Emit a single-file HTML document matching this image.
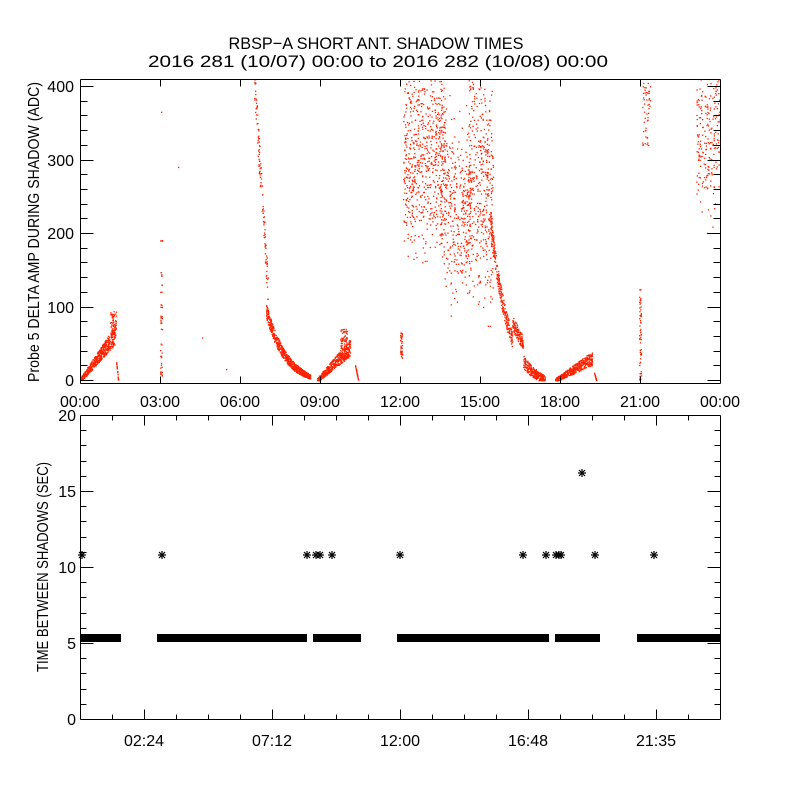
<!DOCTYPE html>
<html><head><meta charset="utf-8"><style>
html,body{margin:0;padding:0;background:#fff;}
svg{display:block;font-family:"Liberation Sans",sans-serif;}
</style></head><body>
<svg id="s" width="800" height="800" viewBox="0 0 800 800" xmlns="http://www.w3.org/2000/svg">
<rect width="800" height="800" fill="#fff"/>
<text x="376" y="49" font-size="17" text-anchor="middle" textLength="295" lengthAdjust="spacingAndGlyphs">RBSP−A SHORT ANT. SHADOW TIMES</text>
<text x="378" y="67" font-size="17" text-anchor="middle" textLength="460" lengthAdjust="spacingAndGlyphs">2016 281 (10/07) 00:00 to 2016 282 (10/08) 00:00</text>
<g id="pts"></g>
<g id="ax" stroke="#000" stroke-width="1" fill="none"></g>
<g id="lab" font-size="16" fill="#000"></g>
<text transform="translate(39,232) rotate(-90)" font-size="16" text-anchor="middle" textLength="300" lengthAdjust="spacingAndGlyphs">Probe 5 DELTA AMP DURING SHADOW (ADC)</text>
<text transform="translate(48,567) rotate(-90)" font-size="16" text-anchor="middle" textLength="210" lengthAdjust="spacingAndGlyphs">TIME BETWEEN SHADOWS (SEC)</text>
</svg>
<script>
var NS="http://www.w3.org/2000/svg";
function el(p,t,a,txt){var e=document.createElementNS(NS,t);for(var k in a)e.setAttribute(k,a[k]);if(txt!==undefined)e.textContent=txt;p.appendChild(e);return e;}
var ax=document.getElementById('ax'),lab=document.getElementById('lab'),pts=document.getElementById('pts');
function L(x1,y1,x2,y2){el(ax,'line',{x1:x1+.5,y1:y1+.5,x2:x2+.5,y2:y2+.5});}
L(80,79,720,79);L(80,383,720,383);L(80,79,80,383);L(720,79,720,383);
function yT(v){return 380-v*0.735;}
for(var v=0;v<=400;v+=20){var y=Math.round(yT(v));var len=(v%100==0)?13:7;L(80,y,80+len,y);L(720-len,y,720,y);
 if(v%100==0)el(lab,'text',{x:74,y:y+6,'text-anchor':'end'},String(v));}
var tl=["00:00","03:00","06:00","09:00","12:00","15:00","18:00","21:00","00:00"];
for(var i=0;i<=8;i++){var x=80+i*80;L(x,383,x,376);L(x,79,x,86);el(lab,'text',{x:x,y:407,'text-anchor':'middle'},tl[i]);}
L(80,415,720,415);L(80,719,720,719);L(80,415,80,719);L(720,415,720,719);
for(var v=0;v<=20;v++){var y=Math.round(719-v*15.2);var len=(v%5==0)?13:6;L(80,y,80+len,y);L(720-len,y,720,y);
 if(v%5==0)el(lab,'text',{x:76,y:y+6,'text-anchor':'end'},String(v));}
for(var x=80;x<=720;x+=32){var mj=((x-144)%128==0);var len=mj?10:5;L(x,719,x,719-len);L(x,415,x,415+len);}
var bl=["02:24","07:12","12:00","16:48","21:35"];
for(var i=0;i<5;i++)el(lab,'text',{x:144+i*128,y:746,'text-anchor':'middle'},bl[i]);
[[80,121],[157,307],[313,361],[397,549],[555,600],[637,720]].forEach(function(s){el(pts,'rect',{x:s[0],y:634,width:s[1]-s[0],height:8,fill:'#000'});});
function star(x,y){var g=el(pts,'g',{stroke:'#000','stroke-width':'1.2'});
 el(g,'line',{x1:x-4,y1:y,x2:x+4,y2:y});el(g,'line',{x1:x,y1:y-4,x2:x,y2:y+4});
 el(g,'line',{x1:x-3,y1:y-3,x2:x+3,y2:y+3});el(g,'line',{x1:x-3,y1:y+3,x2:x+3,y2:y-3});}
[82,162,307,316,320,332,400,523,546,556,559,561,595,654].forEach(function(x){star(x,555);});
star(582,473);
var seed=12345;function r(){seed=(seed*1103515245+12345)%2147483648;return seed/2147483648;}
function P(x,v,c){if(v<0||v>410)return;el(pts,'rect',{x:x.toFixed(1),y:yT(v).toFixed(1),width:1.3,height:1.3,fill:c||'#ff2200'});}
function seg(x0,x1,n,f){for(var i=0;i<n;i++){var t=r();var x=x0+t*(x1-x0);P(x,f(t,x));}}
function g(){return (r()+r()+r()-1.5);}
seg(80,115,500,function(t){return t*62+ (r()-0.5)*(6+20*t) ;});
seg(110,116,60,function(t){return 60+r()*35;});
seg(116,118,25,function(t){return 25-t*25;});
seg(160,162,50,function(){return r()<0.85?r()*150+5:190;});P(161,365);P(178,290);P(202,58);P(226,15);
seg(254,268,120,function(t){return 405-t*290+(r()-0.5)*50;});
seg(266,310,700,function(t){return 100*Math.exp(-t*2.2)-6+ (r()-0.5)*(20-14*t);});
seg(317,350,450,function(t){return Math.max(0,t*45+(r()-0.5)*(6+18*t));});
seg(340,347,80,function(){return 30+r()*40;});
seg(355,358,30,function(t){return 20-t*20;});
seg(400,402,40,function(){return 30+r()*35;});
seg(403,445,650,function(t){return 290+g()*110+ (r()<0.3?60:0);});
seg(440,470,380,function(t){return 250-t*30+g()*110;});
seg(468,493,420,function(t){return 290-t*40+g()*150;});
seg(490,545,650,function(t){return Math.max(0,230*Math.exp(-t*3.2)-8+(r()-0.5)*(30-20*t)+(t>0.4&&t<0.6?25:0));});
seg(555,592,450,function(t){return Math.max(0,t*30+(r()-0.5)*(5+14*t));});
seg(594,596,20,function(t){return 10-t*10;});
seg(639,641,60,function(){return r()*125;});
seg(642,650,50,function(){return 320+r()*85;});
seg(696,720,220,function(t){return 330+t*10+g()*100;});
</script>
</body></html>
